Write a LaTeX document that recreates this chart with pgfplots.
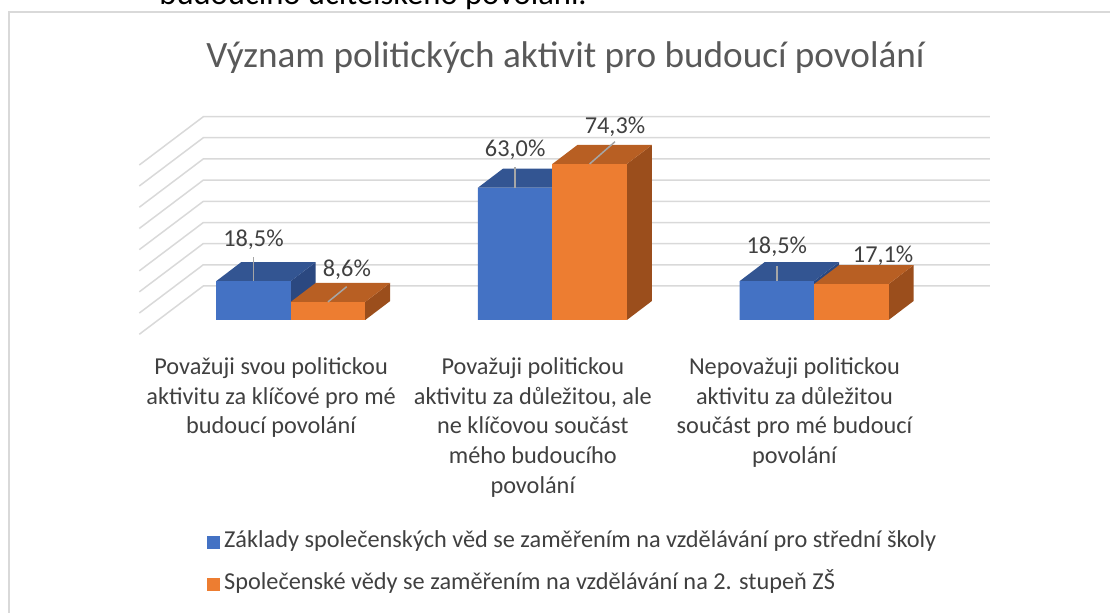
\documentclass[border=0pt]{standalone}
\usepackage{fontspec}
\setmainfont{Carlito}
\usepackage{pgfplots}
\usepackage{pgfplotstable}
\pgfplotsset{compat=1.18}
\definecolor{blueF}{HTML}{4472C4}
\definecolor{blueT}{HTML}{335592}
\definecolor{blueS}{HTML}{2B4880}
\definecolor{orangeF}{HTML}{ED7D31}
\definecolor{orangeT}{HTML}{B85F23}
\definecolor{orangeS}{HTML}{9B4E1C}
\definecolor{gridc}{HTML}{D9D9D9}
\definecolor{textc}{HTML}{404040}
\definecolor{titlec}{HTML}{595959}
\definecolor{leadc}{HTML}{A6A6A6}

% faces of a 3D bar, each drawn at the front-top-centre of the bar
\pgfdeclareplotmark{cubetop}{%
  \pgfpathmoveto{\pgfqpoint{-18.625pt}{0pt}}%
  \pgfpathlineto{\pgfqpoint{18.625pt}{0pt}}%
  \pgfpathlineto{\pgfqpoint{31.125pt}{9.5pt}}%
  \pgfpathlineto{\pgfqpoint{-6.125pt}{9.5pt}}%
  \pgfpathclose\pgfusepathqfill}
\pgfdeclareplotmark{cubeside}{%
  \pgfpathmoveto{\pgfqpoint{18.625pt}{0pt}}%
  \pgfpathlineto{\pgfqpoint{31.125pt}{9.5pt}}%
  \pgfpathlineto{\pgfpoint{31.125pt}{9.5pt-\barval*1.05pt}}%
  \pgfpathlineto{\pgfpoint{18.625pt}{-\barval*1.05pt}}%
  \pgfpathclose\pgfusepathqfill}
\pgfdeclareplotmark{cubefront}{%
  \pgfpathrectanglecorners{\pgfqpoint{-18.625pt}{0pt}}{\pgfpoint{18.625pt}{-\barval*1.05pt}}%
  \pgfusepathqfill}
\pgfdeclareplotmark{leader}{%
  \pgfpathmoveto{\pgfqpoint{0pt}{0pt}}%
  \pgfpathlineto{\pgfpoint{\leadx*1pt}{\leady*1pt}}%
  \pgfusepathqstroke}

% x = bar centre, v = value (%), lx/ly = label offset (pt), ex/ey = leader line (pt)
\pgfplotstableread{
x v lx ly ex ey
-0.1423 18.5 0 20.85 0 12.18
0.8577 63.0 0 19.0 0 10.5
1.8577 18.5 0 17.2 0 7.73
}\bluedata
\pgfplotstableread{
x v lx ly ex ey
0.1423 8.6 9.45 16.15 9.38 7.62
1.1423 74.3 12.7 18.65 12.68 11.13
2.1423 17.1 15.9 14.3 0 0
}\orangedata

\pgfplotsset{
  facestyle/.style={forget plot, scatter, only marks,
    scatter/@pre marker code/.code={}, scatter/@post marker code/.code={},
    visualization depends on={\thisrow{v}\as\barval}},
  frontstyle/.style={ybar, bar width=37.25pt, bar shift=0pt, draw=none,
    nodes near coords={\pgfmathprintnumber[fixed,fixed zerofill,precision=1,use comma,assume math mode=true]{\pgfplotspointmeta}\%},
    visualization depends on={\thisrow{lx}\as\labx},
    visualization depends on={\thisrow{ly}\as\laby},
    every node near coord/.append style={anchor=center, xshift=\labx*1pt, yshift=\laby*1pt,
      font=\fontsize{12.15}{14.9}\selectfont, text=textc, inner sep=0pt},
    legend image code/.code={\fill[##1] (0pt,-3.3pt) rectangle (6.6pt,3.3pt);}},
  leaderstyle/.style={forget plot, scatter, only marks, mark=leader,
    scatter/@pre marker code/.code={}, scatter/@post marker code/.code={},
    mark options={draw=leadc, line width=0.75pt},
    visualization depends on={\thisrow{ex}\as\leadx},
    visualization depends on={\thisrow{ey}\as\leady}},
}

\begin{document}
\begin{tikzpicture}
\useasboundingbox (0,0) rectangle (555pt,306pt);
\begin{scope}[x=0.5pt,y=-0.5pt,yshift=306pt]
  \draw[gridc, line width=1pt] (8.5,1000) -- (8.5,12.5) -- (1300,12.5);
  \node[anchor=base west, font=\fontsize{16.3}{19}\selectfont, inner sep=0pt] at (159,5) {budoucího učitelského povolání.};
  \node[anchor=base, font=\fontsize{18.6}{22}\selectfont, text=titlec, inner sep=0pt] at (565.5,68) {Význam politických aktivit pro budoucí povolání};
\end{scope}
\begin{axis}[
  at={(53.755pt,30.5pt)}, anchor=south west,
  x=130.85pt, y=1.05pt,
  xmin=-0.7, xmax=2.8, ymin=-110, ymax=110,
  clip=false,
  axis x line=middle, axis y line=none,
  axis line style={draw=none},
  ytick=\empty,
  xtick={0,1,2},
  xticklabels={{Považuji svou politickou\\aktivitu za klíčové pro mé\\budoucí povolání},
               {Považuji politickou\\aktivitu za důležitou, ale\\ne klíčovou součást\\mého budoucího\\povolání},
               {Nepovažuji politickou\\aktivitu za důležitou\\součást pro mé budoucí\\povolání}},
  xticklabel style={align=center, font=\fontsize{12.15}{14.9}\selectfont, text=textc,
    anchor=north, xshift=-9.8pt, yshift=-15.2pt},
  major tick length=0pt,
  hide obscured x ticks=false,
  legend cell align=left,
  legend style={at={(0.10862,0.0481)}, anchor=north west, draw=none, fill=none,
    inner sep=0pt, outer sep=0pt, row sep=6.8pt,
    font=\fontsize{12.15}{14.9}\selectfont, text=textc,
    nodes={inner sep=2pt, text height=0.75em, text depth=0.25em}},
]
% back wall and side wall gridlines
\draw[gridc, line width=0.75pt] (axis cs:-0.5785,-6.8) -- (axis cs:-0.334,16.2) -- (axis cs:2.672,16.2);
\draw[gridc, line width=0.75pt] (axis cs:-0.5785,3.3) -- (axis cs:-0.334,26.3) -- (axis cs:2.672,26.3);
\draw[gridc, line width=0.75pt] (axis cs:-0.5785,13.4) -- (axis cs:-0.334,36.4) -- (axis cs:2.672,36.4);
\draw[gridc, line width=0.75pt] (axis cs:-0.5785,23.4) -- (axis cs:-0.334,46.4) -- (axis cs:2.672,46.4);
\draw[gridc, line width=0.75pt] (axis cs:-0.5785,33.5) -- (axis cs:-0.334,56.5) -- (axis cs:2.672,56.5);
\draw[gridc, line width=0.75pt] (axis cs:-0.5785,43.6) -- (axis cs:-0.334,66.6) -- (axis cs:2.672,66.6);
\draw[gridc, line width=0.75pt] (axis cs:-0.5785,53.7) -- (axis cs:-0.334,76.7) -- (axis cs:2.672,76.7);
\draw[gridc, line width=0.75pt] (axis cs:-0.5785,63.8) -- (axis cs:-0.334,86.8) -- (axis cs:2.672,86.8);
\draw[gridc, line width=0.75pt] (axis cs:-0.5785,73.8) -- (axis cs:-0.334,96.8) -- (axis cs:2.672,96.8);

% the bars (front faces, with data labels and legend)
\addplot[frontstyle, fill=blueF] table[x=x,y=v]{\bluedata};
\addlegendentry{Základy společenských věd se zaměřením na vzdělávání pro střední školy}
\addplot[frontstyle, fill=orangeF] table[x=x,y=v]{\orangedata};
\addlegendentry{Společenské vědy se zaměřením na vzdělávání na 2. stupeň ZŠ}

% 3D faces, drawn back to front
\addplot[facestyle, mark=cubeside, mark options={fill=blueS, draw=none}] table[x=x,y=v]{\bluedata};
\addplot[facestyle, mark=cubetop, mark options={fill=blueT, draw=none}] table[x=x,y=v]{\bluedata};
\addplot[facestyle, mark=cubefront, mark options={fill=blueF, draw=none}] table[x=x,y=v]{\bluedata};
\addplot[facestyle, mark=cubeside, mark options={fill=orangeS, draw=none}] table[x=x,y=v]{\orangedata};
\addplot[facestyle, mark=cubetop, mark options={fill=orangeT, draw=none}] table[x=x,y=v]{\orangedata};
\addplot[facestyle, mark=cubefront, mark options={fill=orangeF, draw=none}] table[x=x,y=v]{\orangedata};

% leader lines of the data labels
\addplot[leaderstyle] table[x=x,y=v]{\bluedata};
\addplot[leaderstyle] table[x=x,y=v]{\orangedata};
\end{axis}
\end{tikzpicture}
\end{document}
